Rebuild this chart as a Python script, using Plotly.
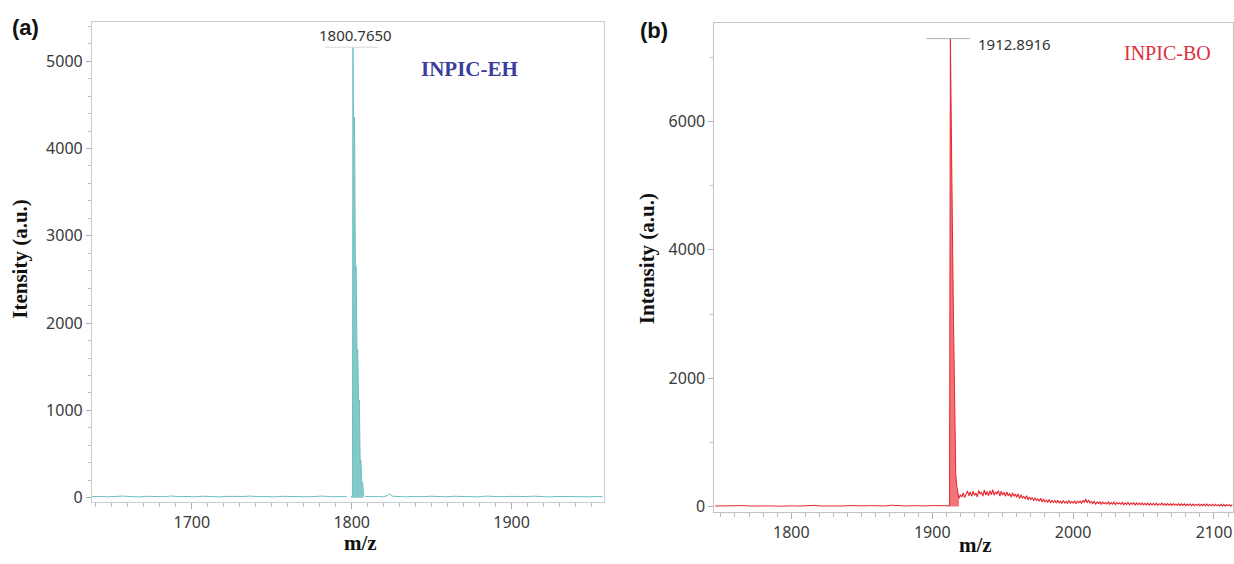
import numpy as np
import plotly.graph_objects as go

W, H = 1234, 564

# ---------------- (a) INPIC-EH spectrum ----------------
eh_base_pre_mz = list(range(1637, 1798, 5))
eh_base_pre_int = [12, 16, 11, 15, 19, 13, 10, 17, 14, 12, 20, 13, 15, 11, 18, 13, 10,
                   16, 12, 15, 19, 12, 14, 10, 17, 13, 16, 11, 15, 19, 12, 15, 13]

# isotope cluster of the molecular ion
eh_peak_mz = [1799.6, 1800.45, 1800.7650, 1801.1, 1801.77, 1802.3, 1802.77, 1803.3,
              1803.77, 1804.3, 1804.77, 1805.3, 1805.77, 1806.3, 1806.8, 1807.4]
eh_peak_int = [12, 20, 5160, 4300, 4360, 2600, 2650, 1650, 1700, 1080, 1120, 400, 430, 150, 180, 25]

eh_base_post_mz = [1808, 1812, 1816, 1820, 1822.5, 1823.8, 1825.2, 1829, 1834, 1839, 1844,
                   1849, 1854, 1859, 1864, 1869, 1874, 1879, 1884, 1889, 1894, 1899, 1904,
                   1909, 1914, 1919, 1924, 1929, 1934, 1939, 1944, 1949, 1954, 1957]
eh_base_post_int = [18, 12, 15, 11, 28, 46, 18, 13, 10, 16, 12, 18, 14, 11, 17, 12, 15,
                    10, 19, 13, 12, 16, 11, 14, 18, 12, 10, 15, 12, 17, 13, 11, 15, 12]

eh_label_mz, eh_label_int = 1800.7650, 5160

# ---------------- (b) INPIC-BO spectrum ----------------
bo_base_mz = list(range(1746, 1912, 5))
bo_base_int = [10, 14, 8, 12, 16, 9, 13, 18, 11, 7, 15, 12, 9, 14, 20, 10, 8, 13, 11, 16,
               9, 12, 15, 8, 11, 22, 13, 10, 14, 9, 12, 17, 11, 13]

bo_peak_mz = [1911, 1912.3, 1912.8916, 1913.3, 1913.9, 1914.5, 1915.1, 1915.6, 1916.1,
              1916.7, 1917.4, 1918.2, 1919]
bo_peak_int = [13, 25, 7290, 6200, 5000, 4000, 2900, 1800, 950, 500, 320, 210, 130]

bo_tail_mz = list(np.arange(1919, 2114))
bo_tail_int = [
    130, 185, 150, 215, 140, 205, 245, 170, 230, 160,
    240, 175, 210, 150, 250, 195, 225, 165, 260, 180,
    235, 170, 250, 185, 265, 175, 230, 195, 250, 165,
    240, 180, 225, 160, 230, 170, 205, 150, 215, 160,
    195, 145, 200, 125, 185, 135, 160, 120, 170, 105,
    150, 110, 140, 90, 140, 95, 120, 85, 130, 70,
    120, 75, 100, 70, 110, 55, 100, 65, 95, 55,
    100, 60, 85, 50, 95, 55, 82, 50, 95, 52,
    80, 55, 92, 45, 85, 58, 88, 48, 100, 65,
    118, 60, 102, 55, 78, 48, 82, 40, 72, 50,
    75, 35, 72, 44, 64, 38, 74, 35, 62, 40,
    70, 30, 64, 40, 60, 34, 68, 30, 58, 34,
    64, 28, 56, 35, 62, 26, 58, 32, 54, 28,
    58, 26, 52, 28, 54, 24, 50, 26, 50, 22,
    52, 20, 46, 26, 56, 22, 46, 20, 48, 22,
    44, 18, 48, 22, 42, 19, 45, 17, 43, 18,
    44, 15, 40, 18, 42, 14, 40, 16, 38, 17,
    40, 12, 37, 16, 38, 11, 39, 14, 34, 13,
    38, 10, 36, 13, 34, 11, 35, 10, 36, 9,
    32, 12, 33, 8, 31,
]

bo_label_mz, bo_label_int = 1912.8916, 7290

# ---------------- figure ----------------
def px(x):
    return x / W


def py(y):
    return 1 - y / H


EH_COLOR = "#6fbfbf"
BO_COLOR = "#e5262e"

fig = go.Figure()
fig.add_trace(go.Scatter(x=eh_base_pre_mz, y=eh_base_pre_int, mode="lines", xaxis="x", yaxis="y",
                         line=dict(color=EH_COLOR, width=1), showlegend=False))
fig.add_trace(go.Scatter(x=eh_peak_mz, y=eh_peak_int, mode="lines", xaxis="x", yaxis="y",
                         line=dict(color=EH_COLOR, width=1), fill="tozeroy",
                         fillcolor="rgba(111,191,191,0.85)", showlegend=False))
fig.add_trace(go.Scatter(x=eh_base_post_mz, y=eh_base_post_int, mode="lines", xaxis="x", yaxis="y",
                         line=dict(color=EH_COLOR, width=1), showlegend=False))

fig.add_trace(go.Scatter(x=bo_base_mz, y=bo_base_int, mode="lines", xaxis="x2", yaxis="y2",
                         line=dict(color=BO_COLOR, width=1), showlegend=False))
fig.add_trace(go.Scatter(x=bo_peak_mz, y=bo_peak_int, mode="lines", xaxis="x2", yaxis="y2",
                         line=dict(color=BO_COLOR, width=1), fill="tozeroy",
                         fillcolor="rgba(240,80,88,0.8)", showlegend=False))
fig.add_trace(go.Scatter(x=bo_tail_mz, y=bo_tail_int, mode="lines", xaxis="x2", yaxis="y2",
                         line=dict(color=BO_COLOR, width=1.1), showlegend=False))

tick_font = dict(family="Noto Sans, Open Sans, sans-serif", size=16, color="#3a3a3a")
title_font = dict(family="Liberation Serif, Times New Roman, serif", size=21, color="#111111")

common_x = dict(showgrid=False, zeroline=False, ticks="outside", ticklen=6, tickwidth=1,
                tickcolor="#a8b0b0", tickfont=tick_font, dtick=100,
                minor=dict(dtick=10, ticks="outside", ticklen=4, tickcolor="#b8c0c0"))
common_y = dict(showgrid=False, zeroline=False, ticks="outside", ticklen=5, tickwidth=1,
                tickcolor="#a8b0b0", tickfont=tick_font)

fig.update_layout(
    width=W, height=H,
    margin=dict(l=0, r=0, t=0, b=0),
    paper_bgcolor="white", plot_bgcolor="white",
    xaxis=dict(domain=[px(92), px(604)], range=[1637.5, 1957.5], anchor="y",
               showline=True, mirror=True, linecolor="#c6d0d0", linewidth=1, **common_x),
    yaxis=dict(domain=[py(508), py(22)], range=[-45, 5452], anchor="x", dtick=1000,
               showline=True, mirror=True, linecolor="#c6d0d0", linewidth=1,
               minor=dict(dtick=200, ticks="outside", ticklen=3, tickcolor="#b8c0c0"),
               **common_y),
    xaxis2=dict(domain=[px(715), 1.0], range=[1745.4, 2113.5], anchor="y2",
                showline=True, mirror=True, linecolor="#c4c4c4", linewidth=1, **common_x),
    yaxis2=dict(domain=[py(518), py(23)], range=[-77, 7538], anchor="x2", dtick=2000,
                showline=True, mirror=True, linecolor="#c4c4c4", linewidth=1,
                minor=dict(dtick=1000, ticks="outside", ticklen=3, tickcolor="#b8c0c0"),
                **common_y),
)

# peak marker bars beside the labels
fig.add_shape(type="line", xref="x", yref="y", x0=eh_label_mz - 17.5, x1=eh_label_mz + 16,
              y0=eh_label_int, y1=eh_label_int, line=dict(color="#d4d8d8", width=1))
fig.add_shape(type="line", xref="x2", yref="y2", x0=bo_label_mz - 17, x1=bo_label_mz + 14,
              y0=bo_label_int, y1=bo_label_int, line=dict(color="#b0b0b0", width=1))

annotations = [
    dict(x=eh_label_mz, y=eh_label_int, xref="x", yref="y", text=f"{eh_label_mz:.4f}",
         showarrow=False, xanchor="center", yanchor="middle", xshift=3, yshift=12,
         font=dict(family="Noto Sans, sans-serif", size=15, color="#333333")),
    dict(x=bo_label_mz, y=bo_label_int, xref="x2", yref="y2", text=f"{bo_label_mz:.4f}",
         showarrow=False, xanchor="left", yanchor="middle", xshift=26, yshift=-5,
         font=dict(family="Noto Sans, sans-serif", size=15, color="#333333")),
    dict(x=px(470), y=py(70), xref="paper", yref="paper", text="<b>INPIC-EH</b>",
         showarrow=False, xanchor="center", yanchor="middle",
         font=dict(family="Liberation Serif, serif", size=21, color="#3c3c9c")),
    dict(x=px(1168), y=py(54), xref="paper", yref="paper", text="INPIC-BO",
         showarrow=False, xanchor="center", yanchor="middle",
         font=dict(family="Liberation Serif, serif", size=20, color="#de3040")),
    dict(x=px(26), y=py(28), xref="paper", yref="paper", text="<b>(a)</b>",
         showarrow=False, xanchor="center", yanchor="middle",
         font=dict(family="Liberation Sans Narrow, Liberation Sans, sans-serif", size=22, color="#111111")),
    dict(x=px(655), y=py(31), xref="paper", yref="paper", text="<b>(b)</b>",
         showarrow=False, xanchor="center", yanchor="middle",
         font=dict(family="Liberation Sans Narrow, Liberation Sans, sans-serif", size=22, color="#111111")),
    dict(x=px(20), y=py(262), xref="paper", yref="paper", text="<b>Itensity (a.u.)</b>",
         showarrow=False, textangle=-90, xanchor="center", yanchor="middle", font=title_font),
    dict(x=px(647), y=py(262), xref="paper", yref="paper", text="<b>Intensity (a.u.)</b>",
         showarrow=False, textangle=-90, xanchor="center", yanchor="middle", font=title_font),
    dict(x=px(361), y=py(550), xref="paper", yref="paper", text="<b>m/z</b>",
         showarrow=False, xanchor="center", yanchor="middle", font=title_font),
    dict(x=px(976), y=py(552), xref="paper", yref="paper", text="<b>m/z</b>",
         showarrow=False, xanchor="center", yanchor="middle", font=title_font),
]
fig.update_layout(annotations=annotations)

fig.write_html("out.html")
